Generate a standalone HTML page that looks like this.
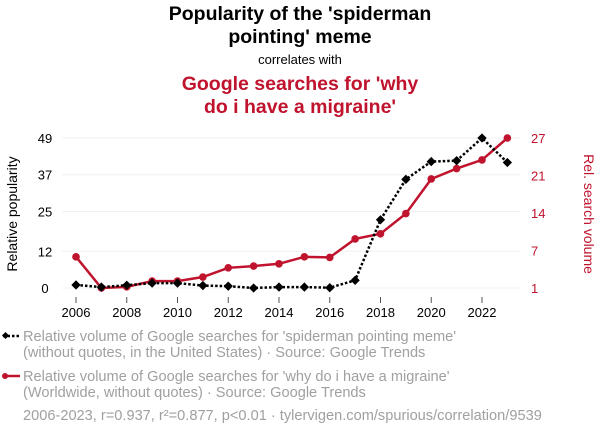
<!DOCTYPE html>
<html><head><meta charset="utf-8"><style>
html,body{margin:0;padding:0;background:#fff;width:600px;height:436px;overflow:hidden}
text{font-family:"Liberation Sans",Arial,sans-serif}
</style></head><body>
<svg id="chart" width="600" height="436" xmlns="http://www.w3.org/2000/svg">
<g text-anchor="middle" font-weight="bold" font-size="19.5" fill="#000">
<text x="300" y="20">Popularity of the 'spiderman</text>
<text x="300" y="43">pointing' meme</text>
</g>
<text x="300" y="64" text-anchor="middle" font-size="13" fill="#000">correlates with</text>
<g text-anchor="middle" font-weight="bold" font-size="19.5" fill="#c0132d">
<text x="300" y="90">Google searches for 'why</text>
<text x="300" y="113">do i have a migraine'</text>
</g>
<g id="grid"></g>
<g id="xaxis"></g>
<g id="yleft"></g>
<g id="yright"></g>
<text transform="translate(17,214) rotate(-90)" text-anchor="middle" font-size="14" fill="#000">Relative popularity</text>
<text transform="translate(584,214) rotate(90)" text-anchor="middle" font-size="14" fill="#c0132d">Rel. search volume</text>
<g id="series"></g>
<g font-size="14.6" fill="#a0a0a0">
<g>
<line x1="3" y1="336" x2="20" y2="336" stroke="#000" stroke-width="2.5" stroke-dasharray="2.5,2"/>
<rect x="3" y="333" width="5" height="5" fill="#000" transform="rotate(45 5.5 335.5)"/>
<text x="23" y="341">Relative volume of Google searches for 'spiderman pointing meme'</text>
<text x="23" y="357">(without quotes, in the United States) · Source: Google Trends</text>
</g>
<g>
<line x1="3" y1="376" x2="20" y2="376" stroke="#c0132d" stroke-width="2.5"/>
<circle cx="5" cy="376" r="3" fill="#c0132d"/>
<text x="23" y="381">Relative volume of Google searches for 'why do i have a migraine'</text>
<text x="23" y="397">(Worldwide, without quotes) · Source: Google Trends</text>
</g>
<text x="23" y="420">2006-2023, r=0.937, r²=0.877, p&lt;0.01 · tylervigen.com/spurious/correlation/9539</text>
</g>
</svg>
<script>
const years=[2006,2007,2008,2009,2010,2011,2012,2013,2014,2015,2016,2017,2018,2019,2020,2021,2022,2023];
const spiderman=[1,0.3,0.9,1.6,1.6,0.8,0.6,0,0.3,0.3,0.1,2.5,22.3,35.5,41.3,41.6,49,41];
const migraine=[6.4,1,1.2,2.2,2.2,2.9,4.5,4.8,5.2,6.4,6.3,9.5,10.4,13.9,19.9,21.7,23.2,27];
const leftTicks=[0,12,25,37,49];
const rightTickLabels=[1,7,14,21,27];
const xTicks=[2006,2008,2010,2012,2014,2016,2018,2020,2022];
const NS="http://www.w3.org/2000/svg";
const x=v=>76+(v-2006)*(406/16);
const yL=v=>288-(v/49)*150;
const yR=v=>288-((v-1)/26)*150;
function el(t,a,p){const e=document.createElementNS(NS,t);for(const k in a)e.setAttribute(k,a[k]);p.appendChild(e);return e;}
const grid=document.getElementById('grid'),xa=document.getElementById('xaxis'),yl=document.getElementById('yleft'),yr=document.getElementById('yright'),s=document.getElementById('series');
leftTicks.forEach((t,i)=>{
 const g=el('line',{x1:62,x2:520,y1:yL(t),y2:yL(t),stroke:'#f0f0f0','stroke-width':1},grid);
 
 
 const tx=el('text',{x:45,y:yL(t)+5,'text-anchor':'middle','font-size':13,fill:'#000'},yl);
 tx.textContent=t;
 
 
});
rightTickLabels.forEach((t,i)=>{
 const yy=yR(1+i*6.5);
 const tx=el('text',{x:531,y:yy+5,'font-size':13,fill:'#c0132d'},yr);
 tx.textContent=t;
 
 
});
xTicks.forEach(t=>{
 const l=el('line',{x1:x(t),x2:x(t),y1:297,y2:303,stroke:'#555','stroke-width':1},xa);
 
 
 const tx=el('text',{x:x(t),y:317,'text-anchor':'middle','font-size':13,fill:'#000'},xa);
 tx.textContent=t;
 
 
});
const lr=el('polyline',{points:years.map((y,i)=>x(y)+','+yR(migraine[i])).join(' '),fill:'none',stroke:'#c0132d','stroke-width':2.5},s);


const lb=el('polyline',{points:years.map((y,i)=>x(y)+','+yL(spiderman[i])).join(' '),fill:'none',stroke:'#000','stroke-width':2.5,'stroke-dasharray':'2.5,2'},s);


years.forEach((y,i)=>{
 const c=el('circle',{cx:x(y),cy:yR(migraine[i]),r:3.8,fill:'#c0132d'},s);
 
 
 const px=x(y),py=yL(spiderman[i]);
 const d=el('rect',{x:px-3.3,y:py-3.3,width:6.6,height:6.6,fill:'#000',transform:`rotate(45 ${px} ${py})`},s);
 
 
});
</script>
</body></html>
